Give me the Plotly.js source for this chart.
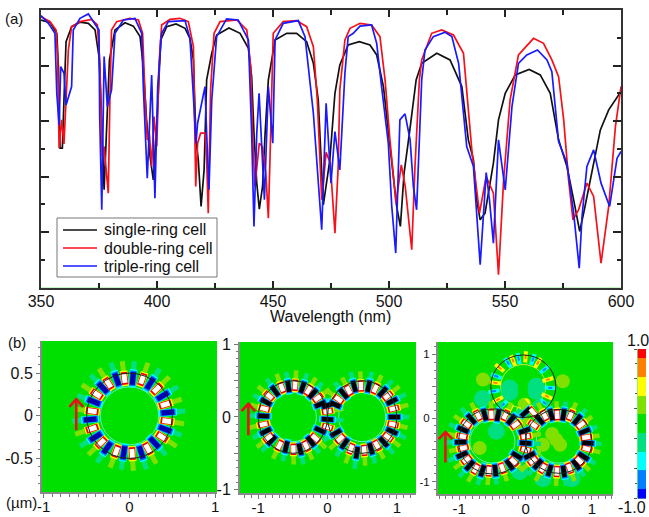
<!DOCTYPE html>
<html><head><meta charset="utf-8">
<script src="https://cdn.plot.ly/plotly-3.0.1.min.js"></script>
<style>html,body{margin:0;padding:0;background:#fff}#g{width:649px;height:517px}</style>
</head><body><div id="g"></div>
<script>
const blackX=[350,354,356.8,357.5,358.2,359.2,360,360.8,363.2,366.8,370.4,373.3,375,375.9,377.2,378.2,379.5,381.9,386.2,389.8,392.7,394.1,395.5,397,398.4,400.1,401.6,404.2,408.2,412.1,414.2,415.7,416.8,417.8,419,420.3,421.4,423.6,425.7,431,435.8,439.4,440.8,441.8,443,444.1,445.5,446.6,448,450.9,455.9,460.2,464.5,467.4,469.5,471.7,474.5,476.7,478.8,482.4,487.2,491.8,494.7,497.6,499.7,500.9,503.3,504.9,506.5,508.8,511.7,514.1,520.6,526.3,531.4,534.2,536.4,537.8,539.3,541.4,543.6,545,547.2,550.1,554.4,560.4,565.2,569.5,573.1,576.7,579.6,582.2,584.2,587.5,591.1,594.7,600];
const blackY=[.964,.954,.916,.796,.502,.502,.70,.886,.94,.956,.952,.928,.832,.664,.352,.556,.82,.928,.954,.942,.904,.796,.604,.472,.388,.616,.892,.94,.95,.934,.898,.82,.532,.46,.292,.424,.748,.844,.91,.935,.916,.862,.76,.556,.376,.282,.364,.556,.748,.892,.916,.916,.886,.808,.676,.298,.46,.70,.802,.874,.886,.874,.838,.724,.556,.472,.292,.22,.412,.556,.748,.808,.844,.82,.724,.532,.46,.316,.244,.268,.388,.448,.604,.70,.766,.786,.766,.70,.532,.436,.316,.202,.28,.412,.568,.64,.706];
const redX=[350,353.9,356.5,357.2,357.8,358.9,359.9,360.8,361.8,363.2,366.8,371.8,374.3,375.4,376.4,377.2,379,379.7,380.4,382.6,388.3,392,393.8,394.8,395.8,396.7,397.7,398.7,399.9,401,402,405.6,409.9,413.5,415.7,416.7,417.5,418.8,420.7,421.4,422.1,423.1,424.6,427.2,434.4,438.7,440.4,441.2,442.2,444.1,445.4,446.9,448,449,450.1,454.4,460.2,464.5,467.4,469.1,470.3,471,472.9,474.7,476.7,478.1,478.8,481,483.2,487.5,492.5,496.1,498.3,500.4,503,505.3,507,509.8,511.2,513.1,514.1,518.4,522.7,527.8,532.1,533.5,535.7,537.1,539,541.9,545,547.2,549.4,552.2,555.8,562.3,566.6,570.2,573.1,575.3,577.4,579.3,581.7,585.3,588.2,591.4,594.7,597.6,600];
const redY=[.976,.958,.928,.82,.502,.604,.517,.70,.856,.94,.958,.966,.946,.808,.472,.508,.34,.676,.928,.958,.97,.964,.916,.70,.532,.556,.436,.616,.508,.82,.946,.966,.97,.958,.868,.364,.52,.556,.556,.46,.268,.712,.916,.958,.964,.928,.796,.556,.364,.52,.508,.412,.25,.556,.916,.958,.962,.94,.868,.676,.472,.316,.487,.448,.196,.436,.712,.892,.934,.952,.946,.904,.748,.532,.304,.442,.364,.136,.436,.748,.82,.916,.928,.91,.844,.70,.496,.40,.268,.40,.34,.046,.388,.676,.838,.898,.88,.82,.76,.604,.388,.244,.28,.376,.328,.088,.292,.58,.724];
const blueX=[350,353.2,356,356.8,357.8,358.5,359.9,360.8,363.2,363.9,366.8,370.4,372.6,375,375.3,376.2,377.2,378.6,380.4,381.9,385.5,390.5,393.4,394.1,395.8,397.7,399.1,400.3,402,404.9,412.1,414.2,415.7,416.8,417.5,420.7,421.4,422.4,423.6,425.7,430,435,439.4,440.8,441.8,443,444,445.1,446.3,448,449.9,450.9,454.4,460.9,463.8,467.4,470.3,471,472.9,474.1,475,476.7,478.8,481,482.4,484.6,487.5,492.5,494.7,496.8,499.7,501.2,502.9,504.7,506.9,509.1,510.5,511.9,514.1,515.5,519.1,524.2,527.1,530,533.5,536.4,539.3,541.9,543.3,545,547.2,550.1,553,555.8,559.4,564,568.1,570.2,573.1,576.7,579.6,582,583.2,585.3,588.2,591.4,595.1,598.3,600];
const blueY=[.98,.952,.916,.70,.586,.796,.772,.658,.724,.928,.97,.986,.958,.928,.616,.28,.832,.652,.712,.916,.964,.97,.916,.724,.394,.766,.322,.724,.916,.958,.962,.898,.688,.52,.592,.724,.556,.352,.676,.904,.968,.964,.892,.556,.22,.556,.70,.508,.316,.724,.52,.892,.952,.962,.904,.628,.316,.208,.664,.508,.376,.562,.424,.772,.904,.916,.942,.946,.88,.724,.52,.292,.124,.604,.626,.532,.364,.28,.748,.856,.904,.92,.904,.808,.508,.436,.082,.414,.316,.16,.532,.352,.652,.808,.838,.856,.82,.778,.526,.448,.268,.07,.256,.436,.496,.376,.292,.466,.49];
const seriesNames=['single-ring cell','double-ring cell','triple-ring cell'];

const p1NegX=[-.148,.039,.241,.388,.447,.416,.291,.136,-.066,-.260,-.396,-.458,-.416,-.311];
const p1NegY=[.427,.439,.380,.235,.039,-.157,-.314,-.431,-.431,-.376,-.247,-.043,.165,.329];
const p1PosX=[-.058,.148,.318,.416,.435,.377,.214,.031,-.155,-.330,-.435,-.435,-.381,-.245];
const p1PosY=[.439,.427,.314,.133,-.063,-.247,-.384,-.443,-.416,-.314,-.149,.055,.251,.380];

const p2NegX=[-.925,-.892,-.887,-.757,-.564,-.361,-.212,-.106,-.106,-.241,-.395,-.598,-.805,.231,.386,.593,.795,.930,.964,.930,.810,.627,.424,.246,.120,.111,0,0];
const p2NegY=[.014,-.198,.207,.359,.423,.409,.322,.175,-.184,-.336,-.446,-.414,-.322,.322,.423,.423,.345,.216,0,-.198,-.345,-.437,-.492,-.368,-.221,.170,-.032,.161];
const p2PosX=[-.843,-.660,-.467,-.275,-.140,-.925,-.853,-.694,-.492,-.308,-.178,-.911,.159,.304,.482,.689,.867,.954,.945,.872,.713,.530,.337,.183,0,0];
const p2PosY=[.290,.405,.437,.368,.262,-.101,-.285,-.391,-.446,-.400,-.290,.115,.244,.368,.428,.391,.290,.115,-.101,-.276,-.391,-.460,-.437,-.299,.078,-.138];

const p3NegX=[-.942,-.977,-.957,-.842,-.652,-.456,-.241,-.130,-.817,-.617,-.416,-.216,.211,.386,.571,.777,.887,.937,.872,.762,.576,.361,.185,.060,0,-.015,0];
const p3NegY=[-.183,-.377,-.576,-.743,-.827,-.822,-.733,-.592,-.016,.052,.042,-.026,-.026,.052,.052,-.026,-.209,-.393,-.602,-.733,-.838,-.822,-.723,-.586,-.393,-.199,.089];
const p3PosX=[-.957,-.942,-.892,-.752,-.551,-.351,-.180,-.892,-.717,-.516,-.306,-.150,.120,.286,.476,.677,.837,.912,.922,.812,.662,.471,.261,.110,0,0,.110];
const p3PosY=[-.288,-.471,-.654,-.796,-.827,-.785,-.681,-.094,.042,.052,.042,-.105,-.105,.042,.052,.042,-.105,-.304,-.482,-.670,-.785,-.838,-.785,-.670,-.288,-.497,.094];
const p3WarmX=[0,-.190,.185,.336,.321,-.391,-.456,-.416,-.241,-.115];
const p3WarmY=[.958,.901,.864,.602,.340,.785,.550,.288,.131,.079];
const p3CoolX=[-.105,.110,-.266,.286,.371,.286,-.441,-.476,-.341];
const p3CoolY=[.932,.916,.864,.759,.471,.236,.654,.419,.209];
const p3SeaX=[-.241,.160,-.441,-.090,.261,-.65,.70,-.24,.16];
const p3SeaY=[.471,.497,-.209,-.838,-.95,.30,-.95,.40,.42];
const p3LimeX=[-.015,-.642,.461,-.692,.561,.261,-.10,.40,.52];
const p3LimeY=[.209,.602,-.340,-.471,.576,-.419,-.10,-.25,-.42];

const colorEdges=[-1,-.875,-.625,-.375,-.125,.125,.375,.625,.875,1];
const colorLevels=[0,1,2,3,4,5,6,7,8];
const palette=['#0000ff','#0080ff','#00ffff','#00e080','#00e000','#80e000','#ffff00','#ff8000','#ff0000'];

const W=649,H=517;
const dx=(a,b)=>[a/W,b/W], dy=(t,b)=>[1-b/H,1-t/H];
const traces=[];
[[blackX,blackY,'#111111'],[redX,redY,'#f5101a'],[blueX,blueY,'#1a1aff']].forEach((s,i)=>{
  traces.push({type:'scatter',mode:'lines',x:s[0],y:s[1],name:seriesNames[i],line:{color:s[2],width:1.7},xaxis:'x',yaxis:'y',hoverinfo:'skip'});
});
function nearest(x,y,cs){let b=cs[0],d=1e9;cs.forEach(c=>{const e=(x-c[0])**2+(y-c[1])**2;if(e<d){d=e;b=c}});return b}
function layer(ax,xs,ys,cs,scale,len,wid,color){
  const X=[],Y=[],A=[];
  xs.forEach((x,i)=>{const c=nearest(x,ys[i],cs);X.push(c[0]+(x-c[0])*scale);Y.push(c[1]+(ys[i]-c[1])*scale);A.push(Math.atan2(x-c[0],ys[i]-c[1])*180/Math.PI)});
  traces.push({type:'scatter',mode:'markers',x:X,y:Y,xaxis:'x'+ax,yaxis:'y'+ax,showlegend:false,hoverinfo:'skip',
    marker:{symbol:'line-ns',size:len,angle:A,color:color,line:{color:color,width:wid}}});
}
function lobes(ax,nx,ny,px,py,cs,dark){
  const k=dark?.9:1;
  layer(ax,nx,ny,cs,1.33,7*k,5*k,'#00e080');
  layer(ax,px,py,cs,1.33,7*k,5*k,'#80e000');
  layer(ax,nx,ny,cs,1,13*k,7.5*k,'#00ffff');
  layer(ax,px,py,cs,1,11*k,7.5*k,'#ffff00');
  layer(ax,nx,ny,cs,1,11*k,6.5*k,'#0070ff');
  layer(ax,px,py,cs,1,9*k,6.5*k,'#f00000');
  layer(ax,nx,ny,cs,1,9*k,5*k,dark?'#000000':'#0000b0');
  layer(ax,px,py,cs,1,6.5*k,5*k,'#ffffff');
}
const ringsP1=[[0,0,.5]],ringsP2=[[-.5,0,.5],[.5,0,.5]],ringsP3=[[-.5,-.366,.51],[.5,-.366,.5],[-.035,.497,.49]];
const innerRadius=.34;
function patches(xs,ys,size,color){traces.push({type:'scatter',mode:'markers',x:xs,y:ys,xaxis:'x4',yaxis:'y4',showlegend:false,hoverinfo:'skip',marker:{symbol:'circle',size:size,color:color,line:{width:0}}})}
patches(p3SeaX,p3SeaY,17,'#00e080');
patches(p3LimeX,p3LimeY,14,'#80e000');
patches([.01],[.25],7,'#ffff00');
lobes(2,p1NegX,p1NegY,p1PosX,p1PosY,ringsP1,false);
lobes(3,p2NegX,p2NegY,p2PosX,p2PosY,ringsP2,true);
layer(4,p3CoolX,p3CoolY,[ringsP3[2]],1,8,4,'#00ffff');
layer(4,p3WarmX,p3WarmY,[ringsP3[2]],1,8,4,'#ffff00');
layer(4,p3WarmX,p3WarmY,[ringsP3[2]],1,3,2,'#ff8000');
layer(4,p3CoolX,p3CoolY,[ringsP3[2]],1,3,2,'#0080ff');
lobes(4,p3NegX,p3NegY,p3PosX,p3PosY,ringsP3.slice(0,2),true);
[[2,[-.621,-.621,null,-.70,-.621,-.54],[-.169,.196,null,.105,.196,.105]],
 [3,[-1.142,-1.142,null,-1.24,-1.142,-1.045],[-.253,.184,null,.08,.184,.08]],
 [4,[-1.208,-1.208,null,-1.31,-1.208,-1.10],[-.696,-.22,null,-.33,-.22,-.33]]].forEach(a=>{
  traces.push({type:'scatter',mode:'lines',x:a[1],y:a[2],xaxis:'x'+a[0],yaxis:'y'+a[0],showlegend:false,hoverinfo:'skip',line:{color:'#e8101a',width:2.6}});
});
const n=palette.length-1;
traces.push({type:'heatmap',x:[0,1],y:colorEdges,z:colorLevels.map(v=>[v]),xaxis:'x5',yaxis:'y5',showscale:false,hoverinfo:'skip',zmin:-.5,zmax:n+.5,
  colorscale:palette.flatMap((c,i)=>[[i/(n+1),c],[(i+1)/(n+1),c]])});

const ringShapes=[];
[[ringsP1,2],[ringsP2,3],[ringsP3,4]].forEach(([rs,a])=>rs.forEach(r=>{
  ringShapes.push({type:'circle',xref:'x'+a,yref:'y'+a,x0:r[0]-innerRadius,x1:r[0]+innerRadius,y0:r[1]-innerRadius,y1:r[1]+innerRadius,line:{color:a==4&&r===rs[2]?'#c8f040':'#60f0c0',width:1},layer:'below'});
  ringShapes.push({type:'circle',xref:'x'+a,yref:'y'+a,x0:r[0]-r[2],x1:r[0]+r[2],y0:r[1]-r[2],y1:r[1]+r[2],line:{color:'#222',width:1},layer:'above'});
}));
const F='Liberation Sans, Arial, sans-serif';
const grey={showline:true,linecolor:'#8a8a8a',linewidth:2,mirror:false,ticks:'outside',tickcolor:'#777',ticklen:4,tickwidth:1,zeroline:false,showgrid:false,tickangle:0,layer:'above traces'};
const label=(x,y,t,s,anchor)=>({xref:'paper',yref:'paper',x:x/W,y:1-y/H,text:t,showarrow:false,font:{family:F,size:s,color:'#111'},xanchor:anchor||'center',yanchor:'middle'});
const minorTicks=d=>({dtick:d,tick0:0,ticks:'outside',ticklen:2.5,tickcolor:'#777'});
const legendRows=[230,248,266], legendColors=['#111111','#f5101a','#1a1aff'];
const paperLine=(x0,y0,x1,y1,c,w)=>({type:'line',xref:'paper',yref:'paper',x0:x0/W,x1:x1/W,y0:1-y0/H,y1:1-y1/H,line:{color:c,width:w},layer:'above'});
const legendShapes=[{type:'rect',xref:'paper',yref:'paper',x0:57/W,x1:217/W,y0:1-277/H,y1:1-218/H,fillcolor:'#fff',line:{color:'#777',width:1},layer:'above'}]
  .concat(legendRows.map((y,i)=>paperLine(63,y,97,y,legendColors[i],1.6)));
const layout={
  width:W,height:H,margin:{l:0,r:0,t:0,b:0},paper_bgcolor:'#fff',plot_bgcolor:'#00e000',font:{family:F,color:'#111'},showlegend:false,
  xaxis:{domain:dx(41,621),range:[350,600],tickvals:[350,400,450,500,550,600],ticks:'inside',ticklen:7,tickwidth:1.5,tickcolor:'#222',minor:{dtick:25,tick0:350,ticks:'inside',ticklen:5,tickcolor:'#222',tickwidth:1.5},showline:true,linewidth:2,linecolor:'#333',mirror:'ticks',showgrid:false,zeroline:false,tickfont:{size:16},ticklabelstandoff:-2,anchor:'y'},
  yaxis:{domain:dy(10,287.5),range:[0,1],tickvals:[.2,.4,.6,.8],showticklabels:false,ticks:'inside',ticklen:8,tickwidth:1.5,tickcolor:'#222',minor:{dtick:.1,tick0:0,ticks:'inside',ticklen:4,tickcolor:'#222',tickwidth:1.5},showline:true,linewidth:2,linecolor:'#333',mirror:'ticks',showgrid:false,zeroline:false,anchor:'x'},
  xaxis2:Object.assign({},grey,{domain:dx(42,217),range:[-1.02,1.02],anchor:'y2',tickvals:[-1,-.5,0,.5,1],ticktext:['-1','','0','','1'],minor:minorTicks(.1),tickfont:{size:15},ticklabelstandoff:-4}),
  yaxis2:Object.assign({},grey,{domain:dy(341,492),range:[-.894,.878],anchor:'x2',tickvals:[-.5,0,.5],ticktext:['-0.5','0','0.5'],minor:minorTicks(.1),tickfont:{size:16}}),
  xaxis3:Object.assign({},grey,{domain:dx(240,416),range:[-1.263,1.277],anchor:'y3',tickvals:[-1,-.5,0,.5,1],ticktext:['-1','','0','','1'],minor:minorTicks(.1),tickfont:{size:15},ticklabelstandoff:-4}),
  yaxis3:Object.assign({},grey,{domain:dy(342,493),range:[-1.048,1.034],anchor:'x3',tickvals:[-1,-.5,0,.5,1],ticktext:['-1','','0','','1'],minor:minorTicks(.1),tickfont:{size:16}}),
  xaxis4:Object.assign({},grey,{domain:dx(438,613),range:[-1.32,1.317],anchor:'y4',tickvals:[-1,-.5,0,.5,1],ticktext:['-1','','0','','1'],minor:minorTicks(.1),tickfont:{size:15},ticklabelstandoff:-4}),
  yaxis4:Object.assign({},grey,{domain:dy(342,494),range:[-1.19,1.19],anchor:'x4',tickvals:[-1,-.5,0,.5,1],ticktext:['-1','','0','','1'],minor:minorTicks(.125),tickfont:{size:11.5}}),
  xaxis5:{domain:dx(637.5,646),range:[0,1],anchor:'y5',visible:false},
  yaxis5:{domain:dy(349,498.5),range:[-1,1],anchor:'x5',side:'left',showline:false,zeroline:false,showgrid:false,ticks:'outside',ticklen:3,tickcolor:'#555',tickvals:[-1,-.6,-.2,.2,.6,1],showticklabels:false,minor:{dtick:.2,tick0:0,ticks:'outside',ticklen:2,tickcolor:'#555'}},
  shapes:[{type:'rect',xref:'x domain',yref:'y domain',x0:0,x1:1,y0:0,y1:1,fillcolor:'#fff',line:{width:0},layer:'below'}].concat(ringShapes,legendShapes),
  annotations:[label(14,18,'(a)',15),label(17,342,'(b)',15),label(21,502,'(µm)',15),label(638,340,'1.0',16),label(632,507,'-1.0',16),label(330,316,'Wavelength (nm)',16)]
    .concat(seriesNames.map((t,i)=>label(102,legendRows[i],t,16,'left')))
};
Plotly.newPlot('g',traces,layout,{displayModeBar:false,responsive:false});
</script></body></html>
